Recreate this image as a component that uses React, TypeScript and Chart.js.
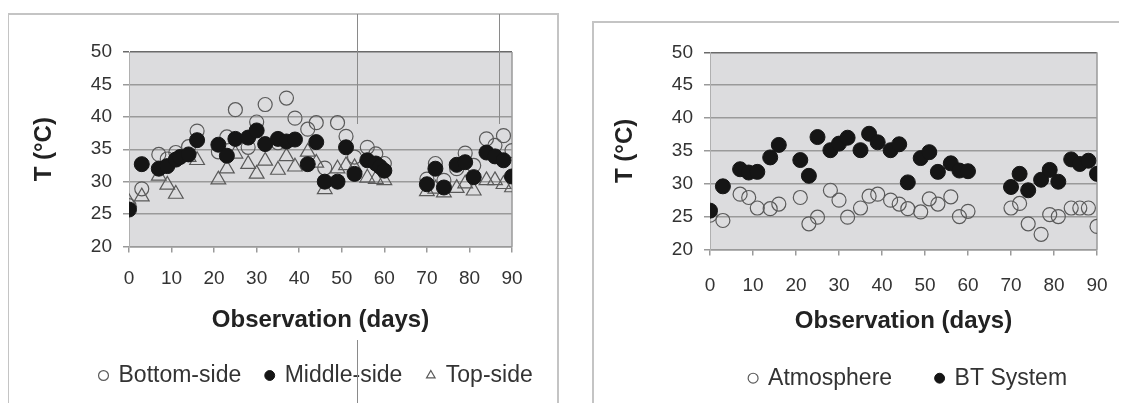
import React, { useEffect, useRef } from "react";
import { Chart, registerables } from "chart.js";

Chart.register(...registerables);

// ---------- data ----------
const leftDays = [0, 3, 7, 9, 11, 14, 16, 21, 23, 25, 28, 30, 32, 35, 37, 39, 42, 44, 46, 49, 51, 53, 56, 58, 60, 70, 72, 74, 77, 79, 81, 84, 86, 88, 90];
const bottomSide = [26.3, 28.9, 34.2, 33.5, 34.5, 35.4, 37.8, 34.6, 36.9, 41.1, 35.3, 39.2, 41.9, 36.0, 42.9, 39.8, 38.1, 39.1, 32.1, 39.1, 37.0, 33.8, 35.3, 34.3, 32.8, 30.4, 32.8, 30.2, 32.0, 34.4, 32.5, 36.6, 35.6, 37.1, 34.8];
const topSide = [26.8, 27.7, 30.9, 29.5, 28.1, 33.8, 33.3, 30.3, 32.0, 34.3, 32.7, 31.2, 33.2, 31.8, 33.9, 32.3, 34.6, 32.9, 28.8, 32.0, 32.5, 32.2, 30.6, 30.4, 30.2, 28.5, 28.9, 28.3, 29.0, 29.7, 28.6, 30.2, 30.2, 29.6, 29.1];
const middleDays = [0, 3, 7, 9, 11, 12, 14, 16, 21, 23, 25, 28, 30, 32, 35, 37, 39, 42, 44, 46, 49, 51, 53, 56, 58, 59, 60, 70, 72, 74, 77, 79, 81, 84, 86, 88, 90];
const middleSide = [25.7, 32.7, 32.0, 32.4, 33.4, 33.8, 34.2, 36.4, 35.7, 34.0, 36.6, 36.8, 37.9, 35.8, 36.6, 36.2, 36.5, 32.7, 36.1, 30.0, 30.0, 35.3, 31.2, 33.3, 32.8, 32.3, 31.7, 29.6, 32.0, 29.1, 32.6, 33.0, 30.7, 34.5, 33.9, 33.3, 30.8];

const rightDays = [0, 3, 7, 9, 11, 14, 16, 21, 23, 25, 28, 30, 32, 35, 37, 39, 42, 44, 46, 49, 51, 53, 56, 58, 60, 70, 72, 74, 77, 79, 81, 84, 86, 88, 90];
const atmosphere = [25.2, 24.4, 28.4, 27.9, 26.3, 26.2, 26.9, 27.9, 23.9, 24.9, 29.0, 27.5, 24.9, 26.3, 28.1, 28.4, 27.5, 26.9, 26.2, 25.7, 27.7, 26.9, 28.0, 25.0, 25.8, 26.3, 27.0, 23.9, 22.3, 25.3, 25.0, 26.3, 26.3, 26.3, 23.5];
const btSystem = [25.9, 29.6, 32.2, 31.7, 31.8, 34.0, 35.9, 33.6, 31.2, 37.1, 35.1, 36.1, 37.0, 35.1, 37.6, 36.3, 35.1, 36.0, 30.2, 33.9, 34.8, 31.8, 33.1, 32.0, 31.9, 29.5, 31.5, 29.0, 30.6, 32.1, 30.3, 33.7, 33.0, 33.5, 31.5];

const xTicks = [0, 10, 20, 30, 40, 50, 60, 70, 80, 90];
const yTicks = [20, 25, 30, 35, 40, 45, 50];
const xTitle = "Observation (days)";
const yTitle = "T (°C)";

const FONT = "'Liberation Sans', Arial, Helvetica, sans-serif";
const HOLLOW = "#5a5a5a";
const FILLED = "#151515";

const pts = (xs: number[], ys: number[]) => xs.map((x, i) => ({ x, y: ys[i] }));

const plotFrame = {
  id: "plotFrame",
  beforeDraw(chart: any) {
    const { ctx, chartArea: a } = chart;
    ctx.save();
    ctx.fillStyle = "#dcdcde";
    ctx.fillRect(a.left, a.top, a.right - a.left, a.bottom - a.top);
    ctx.restore();
  },
  beforeDatasetsDraw(chart: any) {
    const { ctx, chartArea: a } = chart;
    ctx.save();
    ctx.strokeStyle = "#9a9a9a";
    ctx.lineWidth = 1.5;
    ctx.beginPath();
    ctx.moveTo(a.right, a.top);
    ctx.lineTo(a.right, a.bottom);
    ctx.stroke();
    ctx.restore();
  },
};

const legendShift = {
  id: "legendShift",
  afterLayout(chart: any, _args: any, opts: any) {
    const l = chart.legend;
    if (!l) return;
    const dx = opts.dx || 0;
    const dy = opts.dy || 0;
    l.left += dx;
    l.right += dx;
    l.top += dy;
    l.bottom += dy;
  },
};

type PanelProps = {
  left: number;
  top: number;
  width: number;
  height: number;
  datasets: any[];
  padding: { top: number; left: number; right: number; bottom: number };
  yWidth: number;
  xHeight: number;
  xTickPad: number;
  legendPad: number;
  legendDx: number;
  legendDy: number;
};

function Panel(p: PanelProps) {
  const ref = useRef<HTMLCanvasElement | null>(null);
  useEffect(() => {
    if (!ref.current) return;
    const chart = new Chart(ref.current, {
      type: "scatter",
      data: { datasets: p.datasets },
      plugins: [plotFrame, legendShift],
      options: {
        responsive: false,
        animation: false,
        layout: { padding: p.padding },
        plugins: {
          tooltip: { enabled: false },
          legendShift: { dx: p.legendDx, dy: p.legendDy },
          legend: {
            position: "bottom",
            align: "start",
            labels: {
              usePointStyle: true,
              boxWidth: 7,
              boxHeight: 7,
              padding: p.legendPad,
              color: "#333",
              font: { family: FONT, size: 23 },
              sort: (a: any, b: any) => a.datasetIndex - b.datasetIndex,
            },
          },
        } as any,
        scales: {
          x: {
            type: "linear",
            min: 0,
            max: 90,
            afterBuildTicks: (s: any) => {
              s.ticks = xTicks.map((v) => ({ value: v }));
            },
            ticks: {
              autoSkip: false,
              maxRotation: 0,
              padding: p.xTickPad,
              color: "#333",
              font: { family: FONT, size: 19 },
            },
            grid: { drawOnChartArea: false, drawTicks: true, tickLength: 6, color: "#9a9a9a", lineWidth: 1.5 },
            border: { display: true, color: "#9a9a9a", width: 1.5 },
            title: {
              display: true,
              text: xTitle,
              color: "#222",
              font: { family: FONT, size: 24, weight: "bold" },
              padding: { top: 4, bottom: 4 },
            },
            afterFit: (s: any) => {
              s.height = p.xHeight;
            },
          },
          y: {
            type: "linear",
            min: 20,
            max: 50,
            afterBuildTicks: (s: any) => {
              s.ticks = yTicks.map((v) => ({ value: v }));
            },
            ticks: {
              padding: 11,
              color: "#333",
              font: { family: FONT, size: 19 },
            },
            grid: {
              tickLength: 6,
              lineWidth: 1.5,
              color: (c: any) => (c.tick && c.tick.value === 50 ? "#6a6a6a" : "#9a9a9a"),
            },
            border: { display: true, color: "#b0b0b0", width: 1 },
            title: {
              display: true,
              text: yTitle,
              color: "#222",
              font: { family: FONT, size: 24, weight: "bold" },
              padding: { top: 4, bottom: 4 },
            },
            afterFit: (s: any) => {
              s.width = p.yWidth;
            },
          },
        },
      } as any,
    });
    return () => chart.destroy();
  }, []);
  return (
    <canvas
      ref={ref}
      width={p.width}
      height={p.height}
      style={{ position: "absolute", left: p.left, top: p.top, width: p.width, height: p.height, display: "block" }}
    />
  );
}

const hollowCircle = {
  pointStyle: "circle",
  pointRadius: 7,
  backgroundColor: "rgba(0,0,0,0)",
  borderColor: HOLLOW,
  borderWidth: 1.2,
};
const filledCircle = {
  pointStyle: "circle",
  pointRadius: 7.5,
  backgroundColor: FILLED,
  borderColor: FILLED,
  borderWidth: 1,
};
const hollowTriangle = {
  pointStyle: "triangle",
  pointRadius: 8.5,
  backgroundColor: "rgba(0,0,0,0)",
  borderColor: HOLLOW,
  borderWidth: 1.2,
};

export default function App() {
  const leftSets = [
    { label: "Bottom-side", data: pts(leftDays, bottomSide), order: 1, ...hollowCircle },
    { label: "Middle-side", data: pts(middleDays, middleSide), order: 0, ...filledCircle },
    { label: "Top-side", data: pts(leftDays, topSide), order: 2, ...hollowTriangle },
  ];
  const rightSets = [
    { label: "Atmosphere", data: pts(rightDays, atmosphere), order: 1, ...hollowCircle },
    { label: "BT System", data: pts(rightDays, btSystem), order: 0, ...filledCircle },
  ];
  const line = (l: number, t: number, h: number, c: string) => (
    <div style={{ position: "absolute", left: l, top: t, width: 1, height: h, background: c }} />
  );
  return (
    <div style={{ position: "relative", width: 1127, height: 403 }}>
      <div style={{ position: "absolute", left: 0, top: 0, width: 1127, height: 403, overflow: "hidden", background: "#fff", marginLeft: -8, marginTop: -8 }}>
        <div style={{ position: "absolute", left: 7, top: 13, width: 548, height: 420, border: "2px solid #c4c4c4" }} />
        <div style={{ position: "absolute", left: 592, top: 21, width: 560, height: 420, border: "2px solid #c4c4c4" }} />
        <Panel
          left={8}
          top={14}
          width={548}
          height={389}
          datasets={leftSets}
          padding={{ top: 38, left: 18, right: 44, bottom: 6 }}
          yWidth={103}
          xHeight={92.5}
          xTickPad={14.5}
          legendPad={25}
          legendDx={49}
          legendDy={0}
        />
        <Panel
          left={593}
          top={22}
          width={534}
          height={396}
          datasets={rightSets}
          padding={{ top: 30.3, left: 13.6, right: 30, bottom: 0.9 }}
          yWidth={103.4}
          xHeight={90.7}
          xTickPad={18.5}
          legendPad={44}
          legendDx={99}
          legendDy={-17.4}
        />
        {line(357, 14, 110, "#8a8a8a")}
        {line(499, 14, 110, "#8a8a8a")}
        {line(357, 340, 63, "#8a8a8a")}
      </div>
    </div>
  );
}
